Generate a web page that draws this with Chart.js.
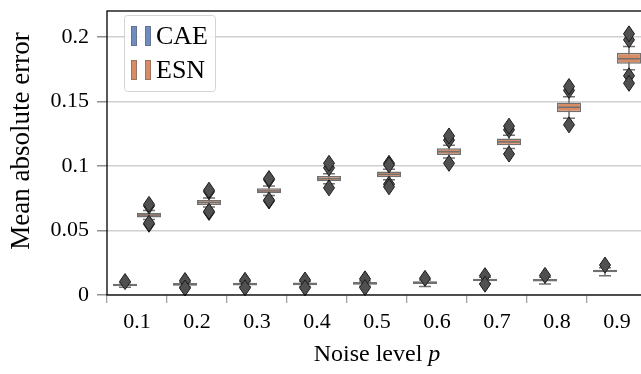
<!DOCTYPE html>
<html>
<head>
<meta charset="utf-8">
<script src="https://cdn.jsdelivr.net/npm/chart.js@4.4.1/dist/chart.umd.min.js"></script>
<style>
  html, body { margin: 0; padding: 0; background: #fff; overflow: hidden; }
  #wrap { position: relative; width: 647px; height: 374px; }
</style>
</head>
<body>
<div id="wrap"><canvas id="chart"></canvas></div>
<script>
const noiseLevels = ["0.1", "0.2", "0.3", "0.4", "0.5", "0.6", "0.7", "0.8", "0.9"];
const yTicks = [0, 0.05, 0.1, 0.15, 0.2];

// CAE: quartiles, whisker ends and fliers per noise level
const caeQ1  = [0.0068, 0.0072, 0.0074, 0.0076, 0.0080, 0.0086, 0.0106, 0.0104, 0.0176];
const caeMed = [0.0078, 0.0082, 0.0084, 0.0086, 0.0090, 0.0096, 0.0116, 0.0114, 0.0186];
const caeQ3  = [0.0088, 0.0092, 0.0094, 0.0096, 0.0100, 0.0106, 0.0126, 0.0124, 0.0196];
const caeLo  = [0.0060, 0.0062, 0.0064, 0.0066, 0.0068, 0.0066, 0.0090, 0.0086, 0.0150];
const caeHi  = [0.0094, 0.0100, 0.0102, 0.0104, 0.0108, 0.0116, 0.0138, 0.0138, 0.0212];
const caeOut = [
  [0.0104], [0.0112, 0.0054], [0.0114, 0.0056], [0.0116, 0.0056], [0.0125, 0.0058],
  [0.0129], [0.0150, 0.0084], [0.0152], [0.0232]
];

// ESN
const esnQ1  = [0.0600, 0.0698, 0.0788, 0.0881, 0.0912, 0.1085, 0.1160, 0.1416, 0.1791];
const esnMed = [0.0620, 0.0717, 0.0806, 0.0900, 0.0934, 0.1110, 0.1186, 0.1454, 0.1830];
const esnQ3  = [0.0638, 0.0736, 0.0827, 0.0922, 0.0956, 0.1137, 0.1212, 0.1491, 0.1876];
const esnLo  = [0.0585, 0.0682, 0.0770, 0.0862, 0.0892, 0.1062, 0.1135, 0.1370, 0.1745];
const esnHi  = [0.0655, 0.0752, 0.0845, 0.0940, 0.0975, 0.1160, 0.1238, 0.1535, 0.1925];
const esnOut = [
  [0.0690, 0.0702, 0.0548, 0.0556], [0.0800, 0.0812, 0.0640, 0.0648],
  [0.0892, 0.0902, 0.0728, 0.0735], [0.0985, 0.1020, 0.0830],
  [0.1020, 0.1008, 0.0858, 0.0838], [0.1200, 0.1232, 0.1020],
  [0.1280, 0.1308, 0.1092], [0.1585, 0.1615, 0.1318],
  [0.1977, 0.2023, 0.1698, 0.1640]
];

const SERIF = "'Liberation Serif', 'DejaVu Serif', serif";
const EDGE = "#707070";
const BLUE = "#6d8dbf";
const ORANGE = "#d88c66";

const boxStats = [
  { med: caeMed, lo: caeLo, hi: caeHi, q1: caeQ1, q3: caeQ3, out: caeOut },
  { med: esnMed, lo: esnLo, hi: esnHi, q1: esnQ1, q3: esnQ3, out: esnOut }
];

function diamond(ctx, x, y) {
  const hw = 5.5, hh = 8;
  ctx.beginPath();
  ctx.moveTo(x, y - hh);
  ctx.lineTo(x + hw, y);
  ctx.lineTo(x, y + hh);
  ctx.lineTo(x - hw, y);
  ctx.closePath();
  ctx.fill();
  ctx.stroke();
}

// whiskers behind the boxes, medians and fliers on top
const boxParts = {
  id: "boxParts",
  beforeDatasetsDraw(chart) {
    const ctx = chart.ctx, ys = chart.scales.y;
    ctx.save();
    ctx.strokeStyle = EDGE;
    ctx.lineWidth = 1.5;
    boxStats.forEach((s, d) => {
      chart.getDatasetMeta(d).data.forEach((el, i) => {
        const x = el.x, cw = el.width / 4;
        ctx.beginPath();
        ctx.moveTo(x, ys.getPixelForValue(s.q3));
        ctx.lineTo(x, ys.getPixelForValue(s.hi[i]));
        ctx.moveTo(x, ys.getPixelForValue(s.q1));
        ctx.lineTo(x, ys.getPixelForValue(s.lo[i]));
        ctx.moveTo(x - cw, ys.getPixelForValue(s.hi[i]));
        ctx.lineTo(x + cw, ys.getPixelForValue(s.hi[i]));
        ctx.moveTo(x - cw, ys.getPixelForValue(s.lo[i]));
        ctx.lineTo(x + cw, ys.getPixelForValue(s.lo[i]));
        ctx.stroke();
      });
    });
    ctx.restore();
  },
  afterDatasetsDraw(chart) {
    const ctx = chart.ctx, ys = chart.scales.y;
    ctx.save();
    boxStats.forEach((s, d) => {
      chart.getDatasetMeta(d).data.forEach((el, i) => {
        const x = el.x, hw = el.width / 2;
        const ym = ys.getPixelForValue(s.med[i]);
        ctx.strokeStyle = EDGE;
        ctx.lineWidth = 1.5;
        ctx.beginPath();
        ctx.moveTo(x - hw, ym);
        ctx.lineTo(x + hw, ym);
        ctx.stroke();
        ctx.fillStyle = "#505050";
        ctx.strokeStyle = "#1c1c1c";
        ctx.lineWidth = 1;
        s.out[i].forEach(v => diamond(ctx, x, ys.getPixelForValue(v)));
      });
    });
    ctx.restore();
  }
};

const frameAndLabels = {
  id: "frameAndLabels",
  afterDraw(chart) {
    const ctx = chart.ctx, a = chart.chartArea;
    ctx.save();
    ctx.strokeStyle = "#000";
    ctx.lineWidth = 1.3;
    ctx.strokeRect(a.left, a.top, a.right - a.left, a.bottom - a.top);

    ctx.fillStyle = "#000";
    ctx.textBaseline = "middle";

    // y axis title
    ctx.save();
    ctx.translate(22, 141);
    ctx.rotate(-Math.PI / 2);
    ctx.font = "27px " + SERIF;
    ctx.textAlign = "center";
    ctx.fillText("Mean absolute error", 0, 0);
    ctx.restore();

    // x axis title with italic p
    const t1 = "Noise level ";
    ctx.font = "24px " + SERIF;
    const w1 = ctx.measureText(t1).width;
    ctx.font = "italic 24px " + SERIF;
    const w2 = ctx.measureText("p").width;
    const x0 = (a.left + a.right) / 2 - (w1 + w2) / 2;
    ctx.textAlign = "left";
    ctx.font = "24px " + SERIF;
    ctx.fillText(t1, x0, 355);
    ctx.font = "italic 24px " + SERIF;
    ctx.fillText("p", x0 + w1, 355);

    // legend
    const lx = 124, ly = 15, lw = 91, lh = 76;
    ctx.fillStyle = "rgba(255,255,255,0.85)";
    ctx.strokeStyle = "#d4d4d4";
    ctx.lineWidth = 1;
    ctx.beginPath();
    ctx.roundRect(lx + 0.5, ly + 0.5, lw, lh, 3);
    ctx.fill();
    ctx.stroke();
    chart.data.datasets.forEach((ds, k) => {
      const cy = 36 + k * 34;
      ctx.fillStyle = ds.backgroundColor;
      ctx.strokeStyle = "rgba(90,90,90,0.6)";
      ctx.lineWidth = 0.8;
      [131, 145].forEach(px => {
        ctx.fillRect(px, cy - 10, 6, 20);
        ctx.strokeRect(px + 0.4, cy - 9.6, 5.2, 19.2);
      });
      ctx.fillStyle = "#000";
      ctx.font = "26px " + SERIF;
      ctx.textAlign = "left";
      ctx.textBaseline = "middle";
      ctx.fillText(ds.label, 156, cy + 1);
    });
    ctx.restore();
  }
};

new Chart(document.getElementById("chart"), {
  type: "bar",
  data: {
    labels: noiseLevels,
    datasets: [
      {
        label: "CAE",
        data: caeQ1.map((q, i) => [q, caeQ3[i]]),
        backgroundColor: BLUE,
        borderColor: EDGE,
        borderWidth: 1.5,
        borderSkipped: false,
        categoryPercentage: 0.8,
        barPercentage: 1.0
      },
      {
        label: "ESN",
        data: esnQ1.map((q, i) => [q, esnQ3[i]]),
        backgroundColor: ORANGE,
        borderColor: EDGE,
        borderWidth: 1.5,
        borderSkipped: false,
        categoryPercentage: 0.8,
        barPercentage: 1.0
      }
    ]
  },
  options: {
    responsive: true,
    maintainAspectRatio: false,
    animation: false,
    layout: { padding: { top: 11, left: 0, right: 0, bottom: 0 } },
    plugins: { legend: { display: false }, tooltip: { enabled: false } },
    scales: {
      x: {
        grid: { color: "transparent", tickColor: "#a0a0a0", tickLength: 8, lineWidth: 1.3 },
        border: { display: false },
        ticks: { color: "#000", font: { family: SERIF, size: 22 }, padding: 6, maxRotation: 0 },
        afterFit(scale) {
          scale.height = 79;
          scale.paddingLeft = 0;
          scale.paddingRight = 0;
        }
      },
      y: {
        min: 0,
        max: 0.22,
        grid: { color: "#d0d0d0", tickColor: "#909090", tickLength: 10, lineWidth: 1.5 },
        border: { display: false },
        afterBuildTicks(scale) { scale.ticks = yTicks.map(v => ({ value: v })); },
        ticks: {
          color: "#000",
          font: { family: SERIF, size: 22 },
          padding: 8,
          callback: v => String(Number(v.toFixed(2)))
        },
        afterFit(scale) {
          scale.width = 107;
          scale.paddingTop = 0;
          scale.paddingBottom = 0;
        }
      }
    }
  },
  plugins: [boxParts, frameAndLabels]
});
</script>
</body>
</html>
